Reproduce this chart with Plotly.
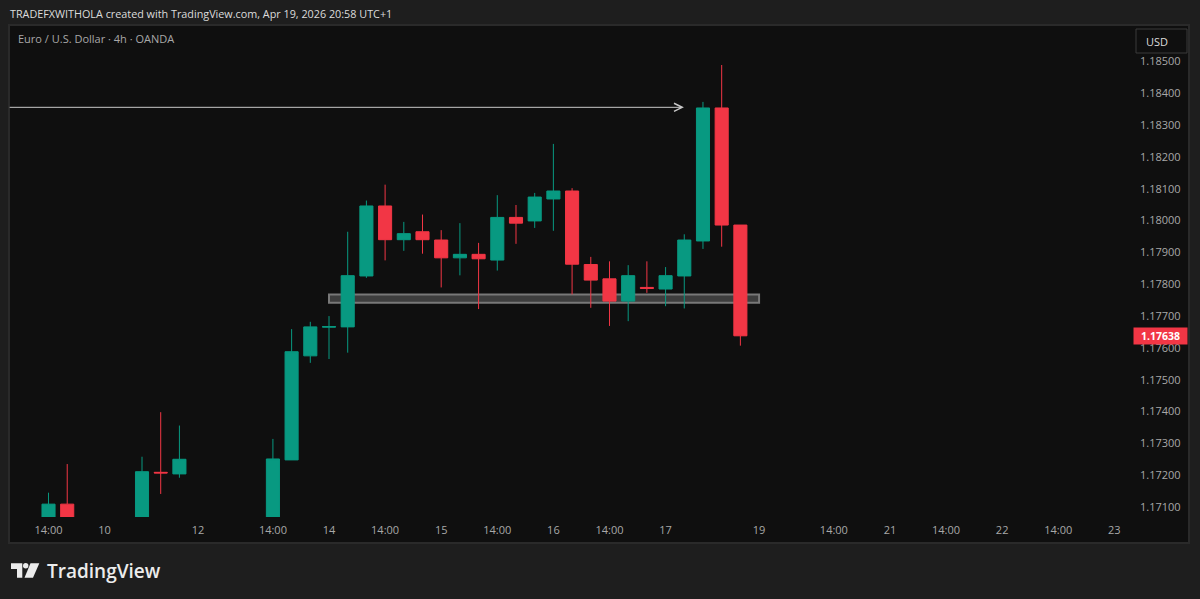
import plotly.graph_objects as go

WIDTH = 1200
HEIGHT = 599
PLOT_L, PLOT_R, PLOT_T, PLOT_B = 10, 1131, 27, 517

# candle slot on the time axis (4h bars, gaps are empty slots)
slots = [0, 1, 5, 6, 7, 12, 13, 14, 15, 16, 17, 18, 19, 20, 21, 22, 23, 24, 25, 26, 27, 28, 29, 30, 31, 32, 33, 34, 35, 36, 37]
opens = [1.17020, 1.17109, 1.17020, 1.17209, 1.17204, 1.17020, 1.17248, 1.17575, 1.17665, 1.17666, 1.17826,
         1.18046, 1.17940, 1.17965, 1.17939, 1.17883, 1.17894, 1.17876, 1.18010, 1.17999, 1.18068, 1.18093,
         1.17862, 1.17817, 1.17747, 1.17790, 1.17785, 1.17826, 1.17936, 1.18354, 1.17986]
highs = [1.17145, 1.17235, 1.17258, 1.17398, 1.17356, 1.17314, 1.17659, 1.17682, 1.17700, 1.17965, 1.18063,
         1.18113, 1.17996, 1.18019, 1.17970, 1.17992, 1.17930, 1.18080, 1.18049, 1.18087, 1.18241, 1.18102,
         1.17886, 1.17872, 1.17860, 1.17872, 1.17854, 1.17957, 1.18373, 1.18489, 1.17986]
lows = [1.17000, 1.17000, 1.17000, 1.17141, 1.17192, 1.17000, 1.17248, 1.17553, 1.17565, 1.17585, 1.17820,
        1.17875, 1.17905, 1.17896, 1.17790, 1.17828, 1.17722, 1.17843, 1.17927, 1.17977, 1.17968, 1.17768,
        1.17726, 1.17669, 1.17684, 1.17773, 1.17731, 1.17724, 1.17911, 1.17918, 1.17607]
closes = [1.17109, 1.17020, 1.17211, 1.17207, 1.17250, 1.17251, 1.17588, 1.17666, 1.17667, 1.17827, 1.18046,
          1.17940, 1.17959, 1.17940, 1.17883, 1.17894, 1.17880, 1.18010, 1.17992, 1.18074, 1.18093, 1.17863,
          1.17813, 1.17747, 1.17827, 1.17787, 1.17827, 1.17939, 1.18354, 1.17986, 1.17638]

time_slots = [0, 3, 8, 12, 15, 18, 21, 24, 27, 30, 33, 38, 42, 45, 48, 51, 54, 57]
time_labels = ["14:00", "10", "12", "14:00", "14", "14:00", "15", "14:00", "16", "14:00", "17", "19",
               "14:00", "21", "14:00", "22", "14:00", "23"]
price_ticks = [1.185, 1.184, 1.183, 1.182, 1.181, 1.18, 1.179, 1.178, 1.177, 1.176, 1.175, 1.174, 1.173, 1.172, 1.171]

zone_slots = [15, 38]
zone_prices = [1.17742, 1.17768]
arrow_slots = [-2.16, 33.98]
arrow_price = 1.18356
last_price = 1.17638

GREEN = "#089981"
RED = "#f23645"
OUTER = "#1e1e1e"
PANE = "#0f0f0f"
BORDER = "#2a2a2a"
FONT = "Open Sans"


def px(x):
    return (x - PLOT_L) / (PLOT_R - PLOT_L)


def py(y):
    return (PLOT_B - y) / (PLOT_B - PLOT_T)


def page_path(points):
    return "M" + " L".join("{:.5f},{:.5f}".format(px(x), py(y)) for x, y in points) + " Z"


fig = go.Figure()

fig.add_trace(go.Candlestick(
    x=slots, open=opens, high=highs, low=lows, close=closes,
    increasing=dict(line=dict(color=GREEN, width=1), fillcolor=GREEN),
    decreasing=dict(line=dict(color=RED, width=1), fillcolor=RED),
    whiskerwidth=0, showlegend=False, hoverinfo="skip",
))

shapes = [
    # pane behind everything
    dict(type="rect", xref="paper", yref="paper", x0=px(9), x1=px(1189), y0=py(25), y1=py(543),
         fillcolor=PANE, line=dict(color=BORDER, width=2), layer="below"),
    # grey zone
    dict(type="rect", xref="x", yref="y", x0=zone_slots[0], x1=zone_slots[1], y0=zone_prices[0], y1=zone_prices[1],
         fillcolor="#3d3d3d", line=dict(color="#787878", width=2), layer="below"),
    # USD box
    dict(type="rect", xref="paper", yref="paper", x0=px(1136), x1=px(1187), y0=py(29), y1=py(53),
         fillcolor=PANE, line=dict(color="#3a3a3a", width=1), layer="below"),
    # logo
    dict(type="path", xref="paper", yref="paper", fillcolor="#ececec", line=dict(width=0),
         path=page_path([(11, 563.3), (22.3, 563.3), (22.3, 577.7), (17, 577.7), (17, 569), (11, 569)])),
    dict(type="circle", xref="paper", yref="paper", fillcolor="#ececec", line=dict(width=0),
         x0=px(23), x1=px(28.4), y0=py(563), y1=py(568.4)),
    dict(type="path", xref="paper", yref="paper", fillcolor="#ececec", line=dict(width=0),
         path=page_path([(30.5, 563.3), (39.3, 563.3), (33, 577.7), (24.5, 577.7)])),
]

annotations = [
    dict(text="TRADEFXWITHOLA created with TradingView.com, Apr 19, 2026 20:58 UTC+1",
         xref="paper", yref="paper", x=px(8), y=py(13), xanchor="left", yanchor="middle", showarrow=False,
         font=dict(family=FONT, size=10.8, color="#dcdcdc")),
    dict(text="Euro / U.S. Dollar · 4h · OANDA",
         xref="paper", yref="paper", x=px(16), y=py(39), xanchor="left", yanchor="middle", showarrow=False,
         font=dict(family=FONT, size=11, color="#a8a8a8")),
    dict(text="USD", xref="paper", yref="paper", x=px(1144), y=py(41.5), xanchor="left", yanchor="middle",
         showarrow=False, font=dict(family=FONT, size=11, color="#dcdcdc")),
    dict(text="<b>" + "{:.5f}".format(last_price) + "</b>", xref="paper", yref="y", x=px(1133), y=last_price,
         xanchor="left", yanchor="middle", showarrow=False, width=53, height=16, align="center",
         bgcolor=RED, borderpad=0, font=dict(family=FONT, size=10.5, color="#ffffff")),
    dict(text="TradingView", xref="paper", yref="paper", x=px(45), y=py(571), xanchor="left", yanchor="middle",
         showarrow=False, font=dict(family=FONT, size=19, color="#ececec", weight=600)),
    dict(text="", xref="x", yref="y", axref="x", ayref="y", x=arrow_slots[1], y=arrow_price,
         ax=arrow_slots[0], ay=arrow_price, showarrow=True, arrowhead=5, arrowsize=1.6, arrowwidth=1,
         arrowcolor="#c8c8c8"),
]

fig.update_layout(
    width=WIDTH, height=HEIGHT,
    margin=dict(l=PLOT_L, r=WIDTH - PLOT_R, t=PLOT_T, b=HEIGHT - PLOT_B),
    paper_bgcolor=OUTER, plot_bgcolor="rgba(0,0,0,0)",
    boxgap=0.3, boxgroupgap=0,
    shapes=shapes, annotations=annotations,
    showlegend=False,
    xaxis=dict(range=[-2.06, 57.89], tickvals=time_slots, ticktext=time_labels, showgrid=False, zeroline=False,
               showline=False, ticks="", rangeslider=dict(visible=False), fixedrange=True, ticklabelstandoff=5,
               tickfont=dict(family=FONT, size=11, color="#a8a8a8")),
    yaxis=dict(range=[1.170686, 1.186084], side="right", tickvals=price_ticks, tickformat=".5f", showgrid=False,
               zeroline=False, showline=False, ticks="", fixedrange=True, ticklabelstandoff=8,
               tickfont=dict(family=FONT, size=11, color="#a8a8a8")),
)

# the page keeps the browser's default body margin otherwise
fig.write_html("out.html", config=dict(displayModeBar=False),
               post_script="document.body.style.margin='0';document.body.style.background='#1e1e1e';")
